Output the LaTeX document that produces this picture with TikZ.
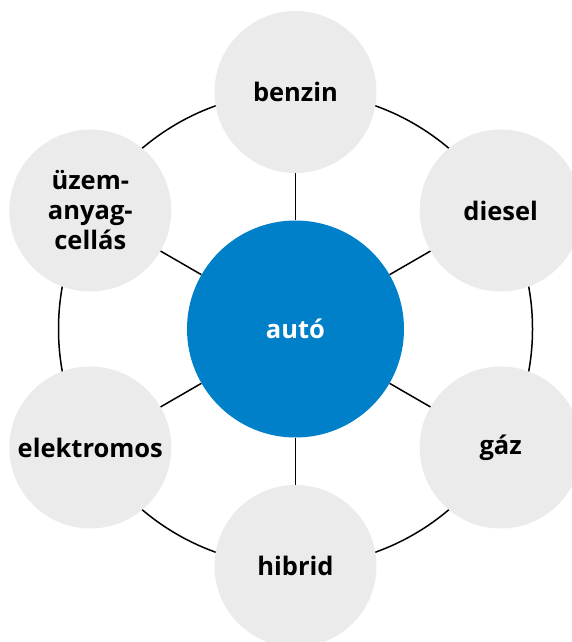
\documentclass[tikz,border=0pt]{standalone}
\usepackage{fontspec}
\setmainfont{Open Sans}
\usetikzlibrary{calc}
\definecolor{hub}{HTML}{0080C8}
\definecolor{sat}{HTML}{EBEBEB}
\begin{document}
\begin{tikzpicture}[x=1pt,y=-1pt,
  satnode/.style={circle,fill=sat,minimum size=162pt,inner sep=0pt,align=center,font=\bfseries\fontsize{25.5}{30}\selectfont,text=black},
  hubnode/.style={circle,fill=hub,minimum size=217pt,inner sep=0pt,font=\bfseries\fontsize{25.5}{30}\selectfont,text=white},
  link/.style={line width=1.5pt,black}]
\useasboundingbox (0,0) rectangle (572,642);
\coordinate (c) at (295.5,329);
\draw[link] (c) circle (237pt);
\node[hubnode] (auto) at (c) {autó};
\node[satnode] (benzin) at ($(c)+(0,-237)$) {benzin};
\node[satnode] (diesel) at ($(c)+(205.2,-118.5)$) {diesel};
\node[satnode] (gaz) at ($(c)+(205.2,118.5)$) {gáz};
\node[satnode] (hibrid) at ($(c)+(0,237)$) {hibrid};
\node[satnode] (elektromos) at ($(c)+(-205.2,118.5)$) {elektromos};
\node[satnode] (uzem) at ($(c)+(-205.2,-118.5)$) {üzem-\\anyag-\\cellás};
\foreach \n in {benzin,diesel,gaz,hibrid,elektromos,uzem}
  \draw[link] (auto) -- (\n);
\end{tikzpicture}
\end{document}
